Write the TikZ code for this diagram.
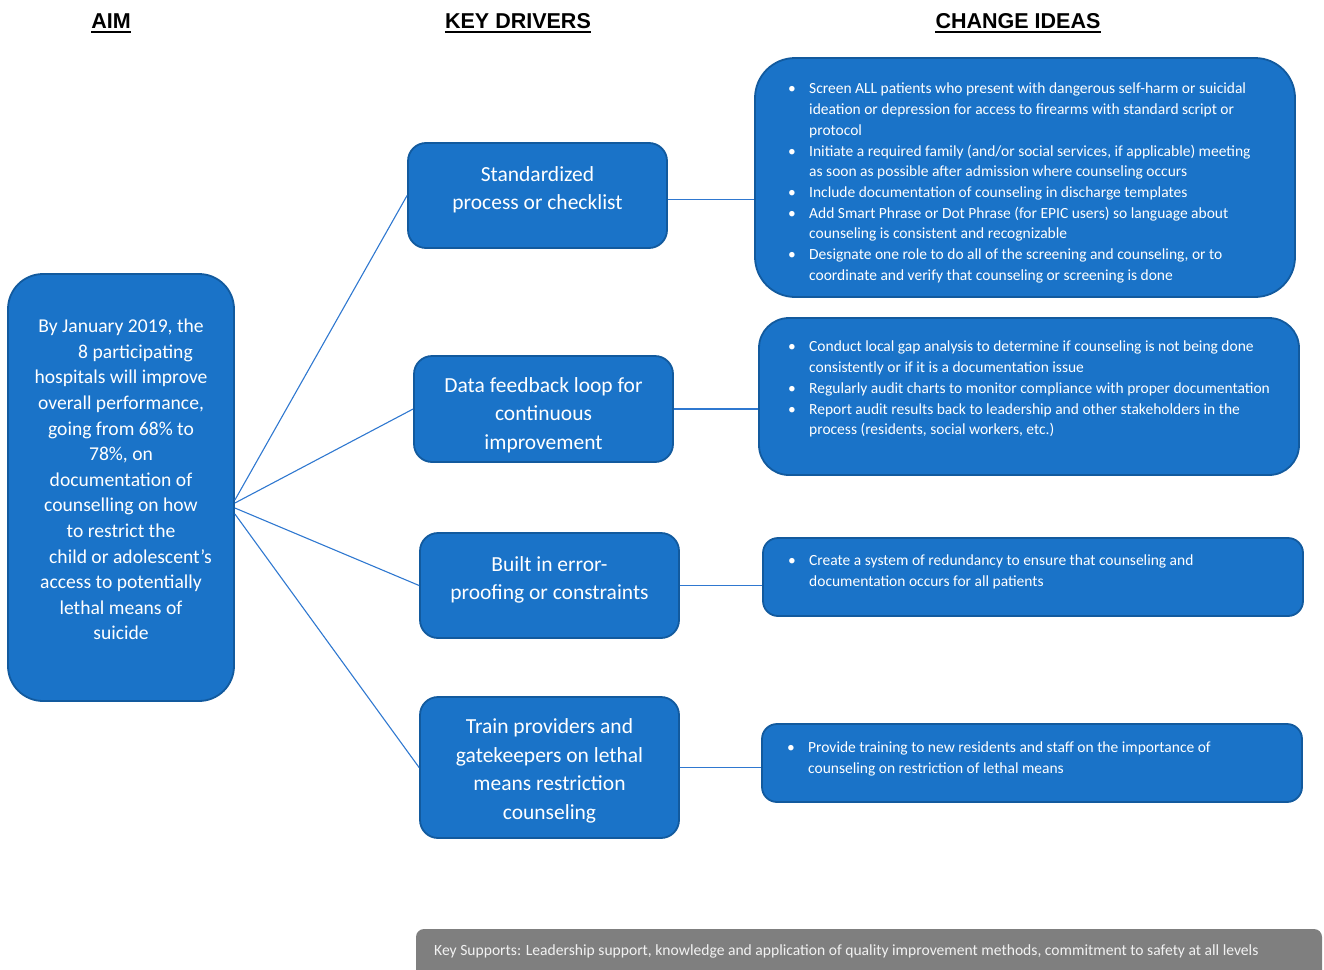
\documentclass[tikz,border=0pt]{standalone}
\usepackage{fontspec}
\setmainfont{Carlito}
\newfontfamily\hdrfont{Liberation Sans}
\definecolor{boxblue}{HTML}{1A73C8}
\definecolor{boxedge}{HTML}{125A9E}
\definecolor{linkblue}{HTML}{2F78D0}
\definecolor{bargray}{HTML}{7F7F7F}
\definecolor{bartext}{HTML}{F2F2F2}
\newcommand\bul{\makebox[21pt][l]{\textbullet}}
\newcommand\ind{\hspace*{21pt}}
\begin{document}
\begin{tikzpicture}[x=1pt,y=-1pt,
  box/.style={draw=boxedge, line width=1.8pt, fill=boxblue, inner sep=0pt, rectangle},
  link/.style={draw=linkblue, line width=1.1pt},
  hdr/.style={font=\hdrfont\bfseries\fontsize{21.5}{25}\selectfont, inner sep=0pt, anchor=base},
  drv/.style={text=white, align=center, font=\fontsize{21.5}{28.5}\selectfont, inner sep=0pt},
  aimtext/.style={text=white, align=center, font=\fontsize{19.6}{25.6}\selectfont, inner sep=0pt},
  ideas/.style={text=white, align=left, anchor=north west, font=\fontsize{15.5}{20.7}\selectfont, inner sep=0pt},
]
\useasboundingbox (0,0) rectangle (1324,969);

% headers
\node[hdr] (hAim) at (111,28) {AIM};
\node[hdr] (hDrv) at (518,28) {KEY DRIVERS};
\node[hdr] (hChg) at (1018,28) {CHANGE IDEAS};
\foreach \h in {hAim,hDrv,hChg}
  \draw[line width=2.2pt] ([yshift=-3.6pt]\h.base west) -- ([yshift=-3.6pt]\h.base east);

% boxes
\node[box, rounded corners=35pt, minimum width=226pt, minimum height=427pt] (aim) at (121,487.5) {};
\node[box, rounded corners=18pt, minimum width=259pt, minimum height=105pt] (d1) at (537.5,195.5) {};
\node[box, rounded corners=18pt, minimum width=259pt, minimum height=106pt] (d2) at (543.5,409) {};
\node[box, rounded corners=18pt, minimum width=259pt, minimum height=105pt] (d3) at (549.5,585.5) {};
\node[box, rounded corners=18pt, minimum width=259pt, minimum height=141pt] (d4) at (549.5,767.5) {};
\node[box, rounded corners=40pt, minimum width=540pt, minimum height=239pt] (c1) at (1025,177.5) {};
\node[box, rounded corners=30pt, minimum width=540pt, minimum height=157pt] (c2) at (1029,396.5) {};
\node[box, rounded corners=15pt, minimum width=540pt, minimum height=78pt] (c3) at (1033,577) {};
\node[box, rounded corners=15pt, minimum width=540pt, minimum height=78pt] (c4) at (1032,763) {};

% connectors
\draw[link] ([yshift=-12.5pt]aim.east) -- (d1.west);
\draw[link] ([yshift=-15.5pt]aim.east) -- (d2.west);
\draw[link] ([yshift=-20.5pt]aim.east) -- (d3.west);
\draw[link] ([yshift=-26.5pt]aim.east) -- (d4.west);
\draw[link] ([yshift=-4pt]d1.east) -- ([yshift=-4pt]d1.east -| c1.west);
\draw[link] (d2.east) -- (d2.east -| c2.west);
\draw[link] (d3.east) -- (d3.east -| c3.west);
\draw[link] (d4.east) -- (d4.east -| c4.west);

% aim text
\node[aimtext] (aimT) at (121,479.5) {By January 2019, the\\
\hspace*{29pt}8 participating\\
hospitals will improve\\
overall performance,\\
going from 68\% to\\
78\%, on\\
documentation of\\
counselling on how\\
to restrict the\\
\hspace*{19pt}child or adolescent’s\\
access to potentially\\
lethal means of\\
suicide};

% driver texts
\node[drv] (d1T) at (537.5,190) {Standardized\\process or checklist};
\node[drv] (d2T) at (543.5,415) {Data feedback loop for\\continuous\\improvement};
\node[drv] (d3T) at (549.5,580) {Built in error-\\proofing or constraints};
\node[drv] (d4T) at (549.5,771) {Train providers and\\gatekeepers on lethal\\means restriction\\counseling};

% change ideas
\node[ideas] (c1T) at (788,83) {\bul Screen ALL patients who present with dangerous self-harm or suicidal\\
\ind ideation or depression for access to firearms with standard script or\\
\ind protocol\\
\bul Initiate a required family (and/or social services, if applicable) meeting\\
\ind as soon as possible after admission where counseling occurs\\
\bul Include documentation of counseling in discharge templates\\
\bul Add Smart Phrase or Dot Phrase (for EPIC users) so language about\\
\ind counseling is consistent and recognizable\\
\bul Designate one role to do all of the screening and counseling, or to\\
\ind coordinate and verify that counseling or screening is done};

\node[ideas] (c2T) at (788,341) {\bul Conduct local gap analysis to determine if counseling is not being done\\
\ind consistently or if it is a documentation issue\\
\bul Regularly audit charts to monitor compliance with proper documentation\\
\bul Report audit results back to leadership and other stakeholders in the\\
\ind process (residents, social workers, etc.)};

\node[ideas] (c3T) at (788,555) {\bul Create a system of redundancy to ensure that counseling and\\
\ind documentation occurs for all patients};

\node[ideas] (c4T) at (787,742) {\bul Provide training to new residents and staff on the importance of\\
\ind counseling on restriction of lethal means};

% key supports bar
\node[fill=bargray, rounded corners=8pt, inner sep=0pt, minimum width=906pt, minimum height=60pt] (bar) at (869,959) {};
\node[text=bartext, anchor=west, inner sep=0pt, font=\fontsize{15.6}{18}\selectfont] (barT) at (434,951) {Key Supports: Leadership support, knowledge and application of quality improvement methods, commitment to safety at all levels};
\end{tikzpicture}
\end{document}
